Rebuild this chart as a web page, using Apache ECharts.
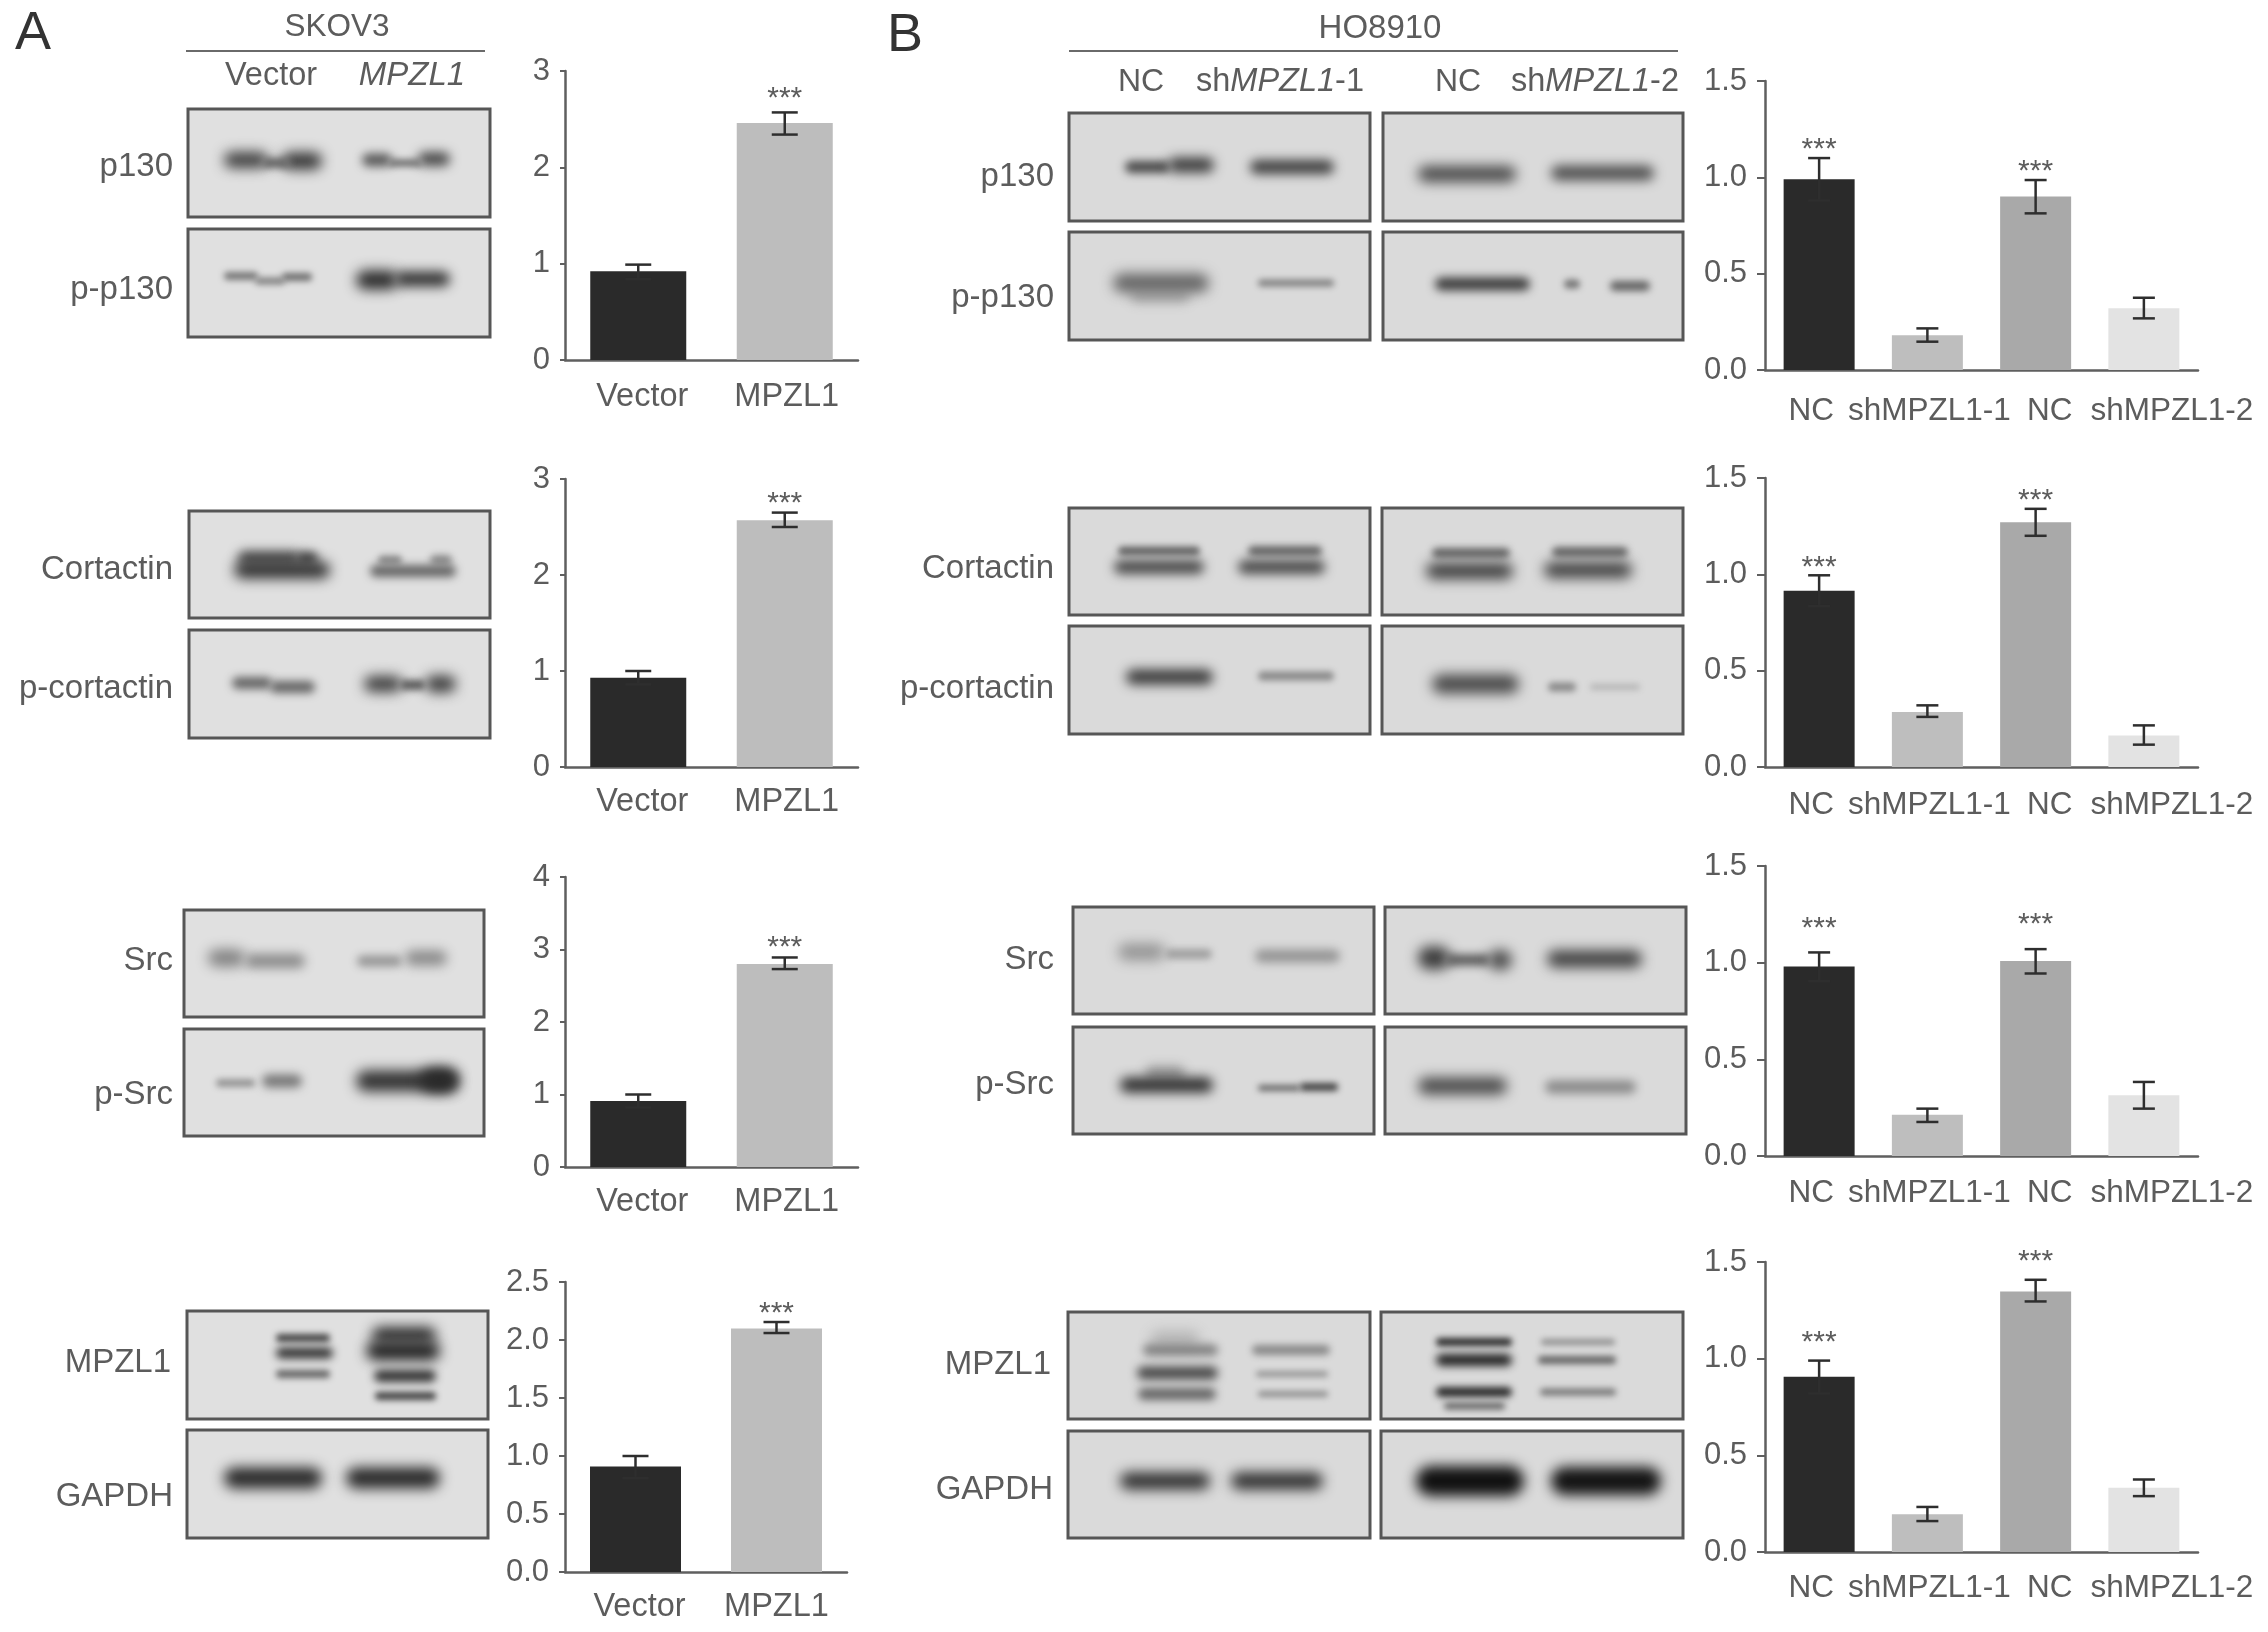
<!DOCTYPE html>
<html>
<head>
<meta charset="utf-8">
<script src="https://cdn.jsdelivr.net/npm/echarts@6/dist/echarts.min.js"></script>
<style>
  html, body { margin: 0; background: #fff; }
  #chart { width: 2268px; height: 1632px; }
</style>
</head>
<body>
<div id="chart"></div>
<script>
// categories
const skovCats = ['Vector', 'MPZL1']
const hoCats = ['NC', 'shMPZL1-1', 'NC', 'shMPZL1-2']

// panel A values, top to bottom: p130, cortactin, Src, MPZL1
const a1Values = [0.92, 2.46]
const a1Low = [0.84, 2.34]
const a1High = [0.99, 2.57]
const a2Values = [0.93, 2.57]
const a2Low = [0.86, 2.5]
const a2High = [1.0, 2.65]
const a3Values = [0.91, 2.8]
const a3Low = [0.82, 2.73]
const a3High = [1.0, 2.89]
const a4Values = [0.91, 2.1]
const a4Low = [0.81, 2.06]
const a4High = [1.0, 2.155]

// panel B values
const b1Values = [0.99, 0.18, 0.9, 0.32]
const b1Low = [0.88, 0.147, 0.813, 0.268]
const b1High = [1.1, 0.216, 0.986, 0.375]
const b2Values = [0.915, 0.285, 1.27, 0.164]
const b2Low = [0.835, 0.26, 1.2, 0.116]
const b2High = [0.995, 0.32, 1.34, 0.216]
const b3Values = [0.98, 0.214, 1.008, 0.314]
const b3Low = [0.905, 0.176, 0.944, 0.245]
const b3High = [1.053, 0.245, 1.07, 0.383]
const b4Values = [0.907, 0.195, 1.348, 0.332]
const b4Low = [0.82, 0.16, 1.296, 0.289]
const b4High = [0.99, 0.233, 1.408, 0.375]

const skovStars = ['', '***']
const hoStars = ['***', '', '***', '']

const skovColors = ['#2a2a2a', '#bdbdbd']
const hoColors = ['#2a2a2a', '#bebebe', '#a9a9a9', '#e3e3e3']

const textColor = '#5c5c5c'
const fontFamily = '"Liberation Sans", Arial, sans-serif'

// every small chart: its values plus where it sits on the page
const panels = [
  { cats: skovCats, values: a1Values, low: a1Low, high: a1High, stars: skovStars, colors: skovColors, max: 3, interval: 1, digits: 0, left: 565, top: 71, width: 293, height: 289, barWidth: 96, shift: [4, 2], tick: 5, labelMargin: 21, starLift: 14, labelSize: 32.5 },
  { cats: skovCats, values: a2Values, low: a2Low, high: a2High, stars: skovStars, colors: skovColors, max: 3, interval: 1, digits: 0, left: 565, top: 479, width: 293, height: 288, barWidth: 96, shift: [4, 2], tick: 5, labelMargin: 19, starLift: 9, labelSize: 32.5 },
  { cats: skovCats, values: a3Values, low: a3Low, high: a3High, stars: skovStars, colors: skovColors, max: 4, interval: 1, digits: 0, left: 565, top: 877, width: 293, height: 290, barWidth: 96, shift: [4, 2], tick: 5, labelMargin: 19, starLift: 10, labelSize: 32.5 },
  { cats: skovCats, values: a4Values, low: a4Low, high: a4High, stars: skovStars, colors: skovColors, max: 2.5, interval: 0.5, digits: 1, left: 565, top: 1282, width: 282, height: 290, barWidth: 91, shift: [4, 0], tick: 6, labelMargin: 19, starLift: 8, labelSize: 32.5 },
  { cats: hoCats, values: b1Values, low: b1Low, high: b1High, stars: hoStars, colors: hoColors, max: 1.5, interval: 0.5, digits: 1, left: 1765, top: 81, width: 433, height: 289, barWidth: 71, shift: [-8, 2, 14, 28], tick: 8, labelMargin: 25, starLift: 8, labelSize: 31.5 },
  { cats: hoCats, values: b2Values, low: b2Low, high: b2High, stars: hoStars, colors: hoColors, max: 1.5, interval: 0.5, digits: 1, left: 1765, top: 478, width: 433, height: 289, barWidth: 71, shift: [-8, 2, 14, 28], tick: 8, labelMargin: 22, starLift: 8, labelSize: 31.5 },
  { cats: hoCats, values: b3Values, low: b3Low, high: b3High, stars: hoStars, colors: hoColors, max: 1.5, interval: 0.5, digits: 1, left: 1765, top: 866, width: 433, height: 290, barWidth: 71, shift: [-8, 2, 14, 28], tick: 8, labelMargin: 21, starLift: 24, labelSize: 31.5 },
  { cats: hoCats, values: b4Values, low: b4Low, high: b4High, stars: hoStars, colors: hoColors, max: 1.5, interval: 0.5, digits: 1, left: 1765, top: 1262, width: 433, height: 290, barWidth: 71, shift: [-8, 2, 14, 28], tick: 8, labelMargin: 20, starLift: 18, labelSize: 31.5 }
]

const axisGrey = '#5f5f5f'

const shiftRich = (p) => {
  const rich = {}
  p.shift.forEach((d, i) => {
    rich['l' + i] = {
      fontSize: p.labelSize,
      fontFamily,
      color: textColor,
      padding: d > 0 ? [0, 0, 0, d * 2] : [0, -d * 2, 0, 0]
    }
  })
  return rich
}

const grid = panels.map((p) => ({
  left: p.left,
  top: p.top,
  width: p.width,
  height: p.height,
  containLabel: false
}))

const xAxis = panels.map((p, i) => ({
  type: 'category',
  gridIndex: i,
  data: p.cats,
  axisLine: { lineStyle: { color: axisGrey, width: 2.5 } },
  axisTick: { alignWithLabel: true, length: 10, lineStyle: { color: axisGrey, width: 2 } },
  axisLabel: {
    interval: 0,
    margin: p.labelMargin,
    formatter: (v, idx) => `{l${idx}|${v}}`,
    rich: shiftRich(p)
  }
}))

const yAxis = panels.map((p, i) => ({
  type: 'value',
  gridIndex: i,
  min: 0,
  max: p.max,
  interval: p.interval,
  splitLine: { show: false },
  axisLine: { show: true, lineStyle: { color: axisGrey, width: 2.5 } },
  axisTick: { show: true, length: p.tick, lineStyle: { color: axisGrey, width: 2 } },
  axisLabel: {
    margin: p.tick + 10,
    fontSize: 31,
    fontFamily,
    color: textColor,
    formatter: (v) => v.toFixed(p.digits)
  }
}))

// error bars and the *** above them
const errorRenderer = (p) => (params, api) => {
  const i = api.value(0)
  const x = api.coord([i, 0])[0]
  const yLow = api.coord([i, api.value(1)])[1]
  const yHigh = api.coord([i, api.value(2)])[1]
  const cap = p.cats.length > 2 ? 11 : 13
  const line = (x1, y1, x2, y2) => ({
    type: 'line',
    shape: { x1, y1, x2, y2 },
    style: { stroke: '#2e2e2e', lineWidth: 2.5 }
  })
  const children = [
    line(x, yLow, x, yHigh),
    line(x - cap, yLow, x + cap, yLow),
    line(x - cap, yHigh, x + cap, yHigh)
  ]
  if (p.stars[i]) {
    children.push({
      type: 'text',
      style: {
        x,
        y: yHigh - p.starLift,
        text: p.stars[i],
        fill: textColor,
        font: `30px ${fontFamily}`,
        textAlign: 'center',
        textVerticalAlign: 'middle'
      }
    })
  }
  return { type: 'group', children }
}

const series = []
panels.forEach((p, i) => {
  series.push({
    type: 'bar',
    xAxisIndex: i,
    yAxisIndex: i,
    barWidth: p.barWidth,
    data: p.values.map((v, k) => ({ value: v, itemStyle: { color: p.colors[k] } }))
  })
  series.push({
    type: 'custom',
    xAxisIndex: i,
    yAxisIndex: i,
    clip: false,
    z: 5,
    renderItem: errorRenderer(p),
    encode: { x: 0, y: [1, 2] },
    data: p.values.map((v, k) => [k, p.low[k], p.high[k]])
  })
})

// blot frames: x0, y0, x1, y1
const blotFramesA = [
  [188, 109, 490, 217], [188, 229, 490, 337],
  [189, 511, 490, 618], [189, 630, 490, 738],
  [184, 910, 484, 1017], [184, 1029, 484, 1136],
  [187, 1311, 488, 1419], [187, 1430, 488, 1538]
]
const blotFramesB = [
  [1069, 113, 1370, 221], [1383, 113, 1683, 221], [1069, 232, 1370, 340], [1383, 232, 1683, 340],
  [1069, 508, 1370, 615], [1382, 508, 1683, 615], [1069, 626, 1370, 734], [1382, 626, 1683, 734],
  [1073, 907, 1374, 1014], [1385, 907, 1686, 1014], [1073, 1027, 1374, 1134], [1385, 1027, 1686, 1134],
  [1068, 1312, 1370, 1419], [1381, 1312, 1683, 1419], [1068, 1431, 1370, 1538], [1381, 1431, 1683, 1538]
]

// blot bands: x0, x1, yCentre, thickness, shade
const blotBands = [
  // A p130
  [224, 268, 160, 14, '#3d3d3d'], [282, 322, 161, 15, '#333'], [262, 290, 163, 8, '#666'], [362, 392, 160, 11, '#5a5a5a'], [418, 450, 159, 12, '#4a4a4a'], [388, 422, 163, 6, '#777'],
  [224, 258, 276, 6, '#777'], [255, 285, 281, 5, '#808080'], [282, 312, 277, 6, '#707070'], [356, 398, 280, 17, '#2a2a2a'], [395, 450, 279, 13, '#333'],
  // A cortactin
  [238, 300, 558, 12, '#4a4a4a'], [296, 318, 558, 11, '#4a4a4a'], [234, 330, 570, 15, '#2e2e2e'], [378, 402, 560, 7, '#8a8a8a'], [430, 452, 560, 8, '#8a8a8a'], [370, 456, 571, 10, '#666'],
  [232, 272, 683, 10, '#666'], [270, 315, 687, 10, '#666'], [364, 402, 684, 14, '#3d3d3d'], [400, 425, 685, 8, '#5a5a5a'], [425, 456, 684, 15, '#3d3d3d'],
  // A Src
  [208, 245, 958, 15, '#808080'], [245, 305, 961, 12, '#8a8a8a'], [357, 402, 961, 9, '#959595'], [405, 447, 958, 13, '#8a8a8a'],
  [216, 255, 1083, 6, '#959595'], [262, 302, 1081, 11, '#777'], [356, 458, 1081, 19, '#333'], [420, 458, 1080, 22, '#2a2a2a'],
  // A MPZL1 / GAPDH
  [276, 330, 1338, 6, '#444'], [276, 333, 1353, 9, '#333'], [276, 330, 1374, 6, '#666'], [372, 436, 1335, 14, '#2e2e2e'], [366, 440, 1351, 17, '#222'], [374, 436, 1376, 10, '#333'], [375, 436, 1396, 6, '#444'],
  [224, 322, 1478, 19, '#2a2a2a'], [346, 440, 1478, 19, '#2a2a2a'],
  // B p130
  [1125, 1170, 167, 10, '#4a4a4a'], [1168, 1214, 165, 13, '#3d3d3d'], [1250, 1334, 167, 12, '#404040'], [1418, 1516, 174, 14, '#4a4a4a'], [1551, 1654, 173, 13, '#505050'],
  [1130, 1190, 296, 12, '#aaa'], [1113, 1209, 283, 17, '#666'], [1258, 1334, 283, 5, '#808080'], [1435, 1530, 284, 11, '#3d3d3d'], [1564, 1580, 284, 7, '#777'], [1610, 1650, 286, 8, '#666'],
  // B cortactin
  [1118, 1200, 551, 7, '#666'], [1114, 1204, 567, 12, '#4a4a4a'], [1248, 1322, 551, 8, '#666'], [1238, 1325, 567, 12, '#4a4a4a'], [1432, 1510, 553, 8, '#666'], [1426, 1513, 571, 14, '#3d3d3d'], [1552, 1628, 552, 8, '#666'], [1544, 1632, 570, 14, '#404040'],
  [1126, 1213, 677, 13, '#3a3a3a'], [1258, 1334, 676, 7, '#8a8a8a'], [1432, 1519, 684, 17, '#4a4a4a'], [1548, 1576, 687, 7, '#8a8a8a'], [1590, 1640, 687, 4, '#b5b5b5'],
  // B Src
  [1118, 1165, 952, 15, '#959595'], [1165, 1212, 954, 8, '#a0a0a0'], [1255, 1340, 956, 11, '#959595'], [1418, 1450, 958, 21, '#3d3d3d'], [1445, 1490, 960, 9, '#5a5a5a'], [1488, 1512, 960, 18, '#4a4a4a'], [1547, 1642, 959, 15, '#404040'],
  [1145, 1185, 1073, 12, '#999'], [1120, 1213, 1085, 13, '#2e2e2e'], [1258, 1300, 1088, 4, '#666'], [1300, 1338, 1087, 6, '#444'], [1418, 1507, 1086, 15, '#4a4a4a'], [1545, 1636, 1087, 11, '#8a8a8a'],
  // B MPZL1 / GAPDH
  [1150, 1200, 1340, 16, '#b5b5b5'], [1143, 1218, 1350, 9, '#808080'], [1137, 1218, 1373, 11, '#4a4a4a'], [1138, 1216, 1394, 10, '#666'], [1252, 1330, 1350, 8, '#8a8a8a'], [1256, 1328, 1374, 3, '#888'], [1258, 1328, 1394, 3, '#808080'],
  [1436, 1512, 1342, 6, '#2a2a2a'], [1436, 1512, 1360, 10, '#222'], [1436, 1512, 1392, 8, '#2a2a2a'], [1444, 1505, 1406, 5, '#666'], [1541, 1615, 1342, 3, '#808080'], [1538, 1616, 1360, 6, '#666'], [1540, 1616, 1392, 5, '#777'],
  [1120, 1210, 1481, 15, '#2e2e2e'], [1231, 1323, 1481, 15, '#2e2e2e'], [1416, 1524, 1481, 28, '#111'], [1551, 1661, 1481, 26, '#141414']
]

const frameEl = (fill) => ([x0, y0, x1, y1]) => ({
  type: 'rect',
  z: 1,
  shape: { x: x0, y: y0, width: x1 - x0, height: y1 - y0 },
  style: { fill, stroke: '#565656', lineWidth: 3 }
})

// only the blurred shadow lands on the page, the rect itself sits off canvas
const bandFarAway = 4000
const bandEl = ([x0, x1, y, h, shade]) => ({
  type: 'rect',
  z: 2,
  shape: { x: x0 + bandFarAway, y: y - (h + 2) / 2, width: x1 - x0, height: h + 2, r: (h + 2) / 2 },
  style: {
    fill: shade,
    shadowColor: shade,
    shadowBlur: Math.max(6, Math.min(13, h * 0.9)),
    shadowOffsetX: -bandFarAway
  }
})

const textEl = (x, y, text, align = 'right', size = 33, color = textColor) => ({
  type: 'text',
  z: 3,
  x,
  y,
  style: {
    text,
    fill: color,
    font: `${size}px ${fontFamily}`,
    textAlign: align,
    textVerticalAlign: 'middle'
  }
})

// italic gene name inside the sample labels
const shLabelEl = (x, y, suffix) => ({
  type: 'text',
  z: 3,
  x,
  y,
  style: {
    text: `{n|sh}{i|MPZL1}{n|${suffix}}`,
    textAlign: 'center',
    textVerticalAlign: 'middle',
    rich: {
      n: { fontSize: 32.5, fontFamily, fill: textColor },
      i: { fontSize: 32.5, fontFamily, fontStyle: 'italic', fill: textColor }
    }
  }
})

const ruleEl = (x0, x1, y) => ({
  type: 'line',
  z: 3,
  shape: { x1: x0, y1: y, x2: x1, y2: y },
  style: { stroke: '#6a6a6a', lineWidth: 2 }
})

const graphicElements = [
  ...blotFramesA.map(frameEl('#e0e0e0')),
  ...blotFramesB.map(frameEl('#dadada')),
  ...blotBands.map(bandEl),
  textEl(15, 34, 'A', 'left', 54, '#333'),
  textEl(887, 36, 'B', 'left', 54, '#333'),
  textEl(337, 27, 'SKOV3', 'center', 31.5),
  ruleEl(186, 485, 51),
  textEl(271, 76, 'Vector', 'center', 32.5),
  { ...textEl(412, 76, 'MPZL1', 'center'), style: { ...textEl(0, 0, 'MPZL1', 'center').style, font: `italic 33px ${fontFamily}` } },
  textEl(1380, 29, 'HO8910', 'center'),
  ruleEl(1069, 1678, 51),
  textEl(1141, 82, 'NC', 'center', 32),
  shLabelEl(1280, 82, '-1'),
  textEl(1458, 82, 'NC', 'center', 32),
  shLabelEl(1595, 82, '-2'),
  textEl(173, 167, 'p130'),
  textEl(173, 290, 'p-p130'),
  textEl(173, 570, 'Cortactin'),
  textEl(173, 689, 'p-cortactin'),
  textEl(173, 961, 'Src'),
  textEl(173, 1095, 'p-Src'),
  textEl(171, 1363, 'MPZL1'),
  textEl(173, 1497, 'GAPDH'),
  textEl(1054, 177, 'p130'),
  textEl(1054, 298, 'p-p130'),
  textEl(1054, 569, 'Cortactin'),
  textEl(1054, 689, 'p-cortactin'),
  textEl(1054, 960, 'Src'),
  textEl(1054, 1085, 'p-Src'),
  textEl(1051, 1365, 'MPZL1'),
  textEl(1053, 1490, 'GAPDH')
]

const chart = echarts.init(document.getElementById('chart'))
chart.setOption({
  animation: false,
  backgroundColor: '#fff',
  grid,
  xAxis,
  yAxis,
  series,
  graphic: { elements: graphicElements }
})
</script>
</body>
</html>
